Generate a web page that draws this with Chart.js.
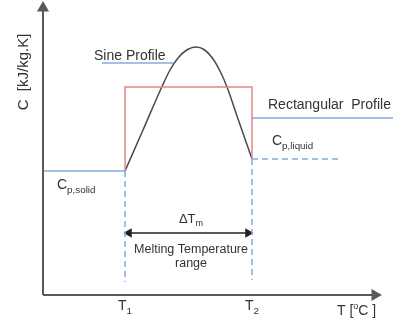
<!DOCTYPE html>
<html>
<head>
<meta charset="utf-8">
<script src="https://cdn.jsdelivr.net/npm/chart.js@4.4.1/dist/chart.umd.min.js"></script>
<style>
  html, body { margin: 0; padding: 0; background: #fff; }
  #wrap { width: 393px; height: 324px; }
</style>
</head>
<body>
<div id="wrap"><canvas id="cpChart" width="393" height="324"></canvas></div>
<script>
// temperature T and heat capacity C, in arbitrary schematic units
const sineT = [82, 100, 119, 127, 135, 143, 153, 161, 169, 177, 184, 194, 202, 209];
const sineC = [124, 165, 208.5, 225, 237, 244.5, 248, 245.5, 237.5, 224, 208, 179, 156, 136];
const rectT = [82, 82, 209, 209];
const rectC = [124, 208, 208, 136];
const t1 = 82;
const t2 = 209;
const cpSolid = 124;
const cpLiquid = 177;
const cpLiquidLow = 136;
const tMax = 332;
const cMax = 287;

const blue = "#86aadc";
const red = "#e28888";
const axisGrey = "#595959";
const textCol = "#333333";

const pts = (xs, ys) => xs.map((x, i) => ({ x: x, y: ys[i] }));

function line(data, color, extra) {
  return Object.assign({
    data: data,
    showLine: true,
    borderColor: color,
    backgroundColor: color,
    borderWidth: 1.5,
    pointRadius: 0,
    fill: false,
  }, extra || {});
}

const labelsPlugin = {
  id: "labels",
  afterDatasetsDraw(chart) {
    const ctx = chart.ctx;
    const xs = chart.scales.x, ys = chart.scales.y;
    const px = (v) => xs.getPixelForValue(v);
    const py = (v) => ys.getPixelForValue(v);
    const font = (s) => s + 'px "Liberation Sans", Arial, sans-serif';

    function sub(main, low, x, y, size, align) {
      ctx.font = font(size);
      const w1 = ctx.measureText(main).width;
      ctx.font = font(size * 0.7);
      const w2 = ctx.measureText(low).width;
      let left = x;
      if (align === "center") left = x - (w1 + w2) / 2;
      ctx.textAlign = "left";
      ctx.textBaseline = "alphabetic";
      ctx.font = font(size);
      ctx.fillText(main, left, y);
      ctx.font = font(size * 0.7);
      ctx.fillText(low, left + w1, y + size * 0.25);
    }

    ctx.save();
    ctx.fillStyle = textCol;

    // axis titles
    ctx.save();
    ctx.translate(px(-19), py(223));
    ctx.rotate(-Math.PI / 2);
    ctx.font = font(15);
    ctx.textAlign = "center";
    ctx.textBaseline = "middle";
    ctx.fillText("C  [kJ/kg.K]", 0, 0);
    ctx.restore();

    ctx.font = font(14);
    ctx.textAlign = "left";
    ctx.textBaseline = "alphabetic";
    ctx.fillText("T [", px(294), py(-20));
    let w = ctx.measureText("T [").width;
    ctx.font = font(9);
    ctx.fillText("o", px(294) + w, py(-20) - 6);
    w += ctx.measureText("o").width;
    ctx.font = font(14);
    ctx.fillText("C ]", px(294) + w, py(-20));

    sub("T", "1", px(t1), py(-15), 14, "center");
    sub("T", "2", px(t2), py(-15), 14, "center");

    // profile labels
    ctx.font = font(14);
    ctx.textAlign = "left";
    ctx.fillText("Sine Profile", px(51), py(235));
    ctx.fillText("Rectangular  Profile", px(225), py(186));

    sub("C", "p,solid", px(14), py(106), 14, "left");
    sub("C", "p,liquid", px(229), py(150), 14, "left");

    // melting range
    sub("\u0394T", "m", px(148), py(72), 13, "center");
    ctx.font = font(12.5);
    ctx.textAlign = "center";
    ctx.fillText("Melting Temperature", px(148), py(42));
    ctx.fillText("range", px(148), py(28));
    ctx.restore();
  },
};

new Chart(document.getElementById("cpChart").getContext("2d"), {
  type: "scatter",
  data: {
    datasets: [
      // axes
      line(pts([0, 0], [0, cMax]), axisGrey, {
        borderWidth: 2,
        pointRadius: [0, 5],
        pointStyle: "triangle",
        rotation: 0,
      }),
      line(pts([0, tMax], [0, 0]), axisGrey, {
        borderWidth: 2,
        pointRadius: [0, 5],
        pointStyle: "triangle",
        rotation: 90,
      }),
      // dashed guides
      line(pts([t1, t1], [cpSolid, 13]), blue, { borderDash: [6, 4] }),
      line(pts([t2, t2], [cpLiquidLow, 15]), blue, { borderDash: [6, 4] }),
      line(pts([t2, 299], [cpLiquidLow, cpLiquidLow]), blue, { borderDash: [6, 4] }),
      // rectangular profile
      line(pts(rectT, rectC), red),
      // solid and liquid levels
      line(pts([0, t1], [cpSolid, cpSolid]), blue),
      line(pts([t2, 350], [cpLiquid, cpLiquid]), blue),
      line(pts([59, 130], [232, 232]), blue),
      // sine profile
      line(pts(sineT, sineC), "#4a4a4a", { cubicInterpolationMode: "monotone" }),
      // melting range arrow
      line(pts([t1 + 4, t2 - 4], [62, 62]), "#222", {
        borderWidth: 1.5,
        pointRadius: 4,
        pointStyle: "triangle",
        rotation: [-90, 90],
      }),
    ],
  },
  options: {
    responsive: false,
    animation: false,
    layout: { padding: 0, autoPadding: false },
    plugins: { legend: { display: false }, tooltip: { enabled: false } },
    scales: {
      x: { type: "linear", display: false, min: -43, max: 350 },
      y: { type: "linear", display: false, min: -29, max: 295 },
    },
  },
  plugins: [labelsPlugin],
});
</script>
</body>
</html>
